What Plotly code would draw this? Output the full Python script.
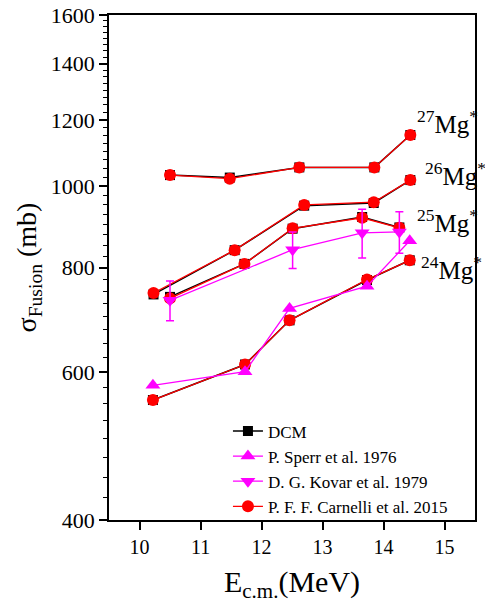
import plotly.graph_objects as go

# ---- data ----
isotopes = ["24", "25", "26", "27"]

# energies (MeV) per isotope
e_24 = [10.22, 11.73, 12.46, 13.73, 14.43]
e_25 = [10.50, 11.72, 12.51, 13.65, 14.26]
e_26 = [10.23, 11.56, 12.70, 13.84, 14.44]
e_27 = [10.50, 11.48, 12.62, 13.85, 14.44]

# DCM (mb)
dcm_24 = [556, 613, 692, 773, 816]
dcm_25 = [738, 808, 890, 919, 893]
dcm_26 = [743, 839, 948, 955, 1017]
dcm_27 = [1031, 1024, 1053, 1053, 1151]

# Carnelli et al. 2015 (mb)
car_24 = [556, 613, 692, 774, 816]
car_25 = [735, 808, 891, 917, 892]
car_26 = [746, 839, 950, 957, 1017]
car_27 = [1031, 1021, 1053, 1053, 1151]

# Sperr et al. 1976 (24Mg)
sperr_e = [10.22, 11.73, 12.46, 13.73, 14.43]
sperr_s = [579, 601, 715, 760, 861]

# Kovar et al. 1979 (25Mg)
kovar_e = [10.50, 12.51, 13.65, 14.26]
kovar_s = [731, 840, 880, 882]
kovar_err = [40, 42, 59, 50]

y_ticks = [400, 600, 800, 1000, 1200, 1400, 1600]
x_ticks = [10, 11, 12, 13, 14, 15]
y_minor = [v for v in range(425, 1600, 25) if v not in y_ticks]


def joined(*groups):
    out = []
    for i, g in enumerate(groups):
        if i:
            out.append(None)
        out.extend(g)
    return out


E_ALL = joined(e_24, e_25, e_26, e_27)
DCM_ALL = joined(dcm_24, dcm_25, dcm_26, dcm_27)
CAR_ALL = joined(car_24, car_25, car_26, car_27)

FONT = "'Liberation Serif', 'Times New Roman', 'DejaVu Serif', serif"

fig = go.Figure()
fig.add_trace(go.Scatter(
    x=E_ALL, y=DCM_ALL, mode="lines+markers", name="DCM",
    line=dict(color="black", width=1.5),
    marker=dict(symbol="square", size=10, color="black"),
    legendrank=1, connectgaps=False))
fig.add_trace(go.Scatter(
    x=E_ALL, y=CAR_ALL, mode="lines+markers", name="P. F. F. Carnelli et al. 2015",
    line=dict(color="#ff0000", width=1.3),
    marker=dict(symbol="circle", size=12, color="#ff0000"),
    legendrank=4, connectgaps=False))
fig.add_trace(go.Scatter(
    x=sperr_e, y=sperr_s, mode="lines+markers", name="P. Sperr et al. 1976",
    line=dict(color="#ff00ff", width=1.3),
    marker=dict(symbol="triangle-up", size=13, color="#ff00ff"),
    legendrank=2))
fig.add_trace(go.Scatter(
    x=kovar_e, y=kovar_s, mode="lines+markers", name="D. G. Kovar et al. 1979",
    line=dict(color="#ff00ff", width=1.3),
    marker=dict(symbol="triangle-down", size=13, color="#ff00ff"),
    error_y=dict(type="data", array=kovar_err, color="#ff00ff", thickness=1.5, width=4),
    legendrank=3))

labels = [
    ("27", 0.836, 0.788),
    ("26", 0.858, 0.685),
    ("25", 0.836, 0.592),
    ("24", 0.847, 0.500),
]
for iso, xp, yp in labels:
    fig.add_annotation(
        text=f"<sup>{iso}</sup>Mg<sup>*</sup>", xref="paper", yref="paper",
        x=xp, y=yp, xanchor="left", yanchor="middle", showarrow=False,
        font=dict(family=FONT, size=25, color="black"))

fig.update_layout(
    width=485, height=611,
    margin=dict(l=109, r=10, t=15, b=91, autoexpand=False),
    paper_bgcolor="white", plot_bgcolor="white",
    font=dict(family=FONT, color="black"),
    showlegend=True,
    hovermode=False,
    legend=dict(x=0.325, y=0.211, xanchor="left", yanchor="top",
                bgcolor="rgba(0,0,0,0)", font=dict(family=FONT, size=17),
                tracegroupgap=0),
    xaxis=dict(
        range=[9.5, 15.5], tickvals=x_ticks, ticktext=[str(v) for v in x_ticks],
        ticks="outside", ticklen=8, tickwidth=1.5, tickcolor="black",
        showline=True, linecolor="black", linewidth=1.8, mirror=True,
        showgrid=False, zeroline=False, automargin=False,
        tickfont=dict(family=FONT, size=20),
        title=dict(text="E<sub>c.m.</sub>(MeV)", font=dict(family=FONT, size=30), standoff=14)),
    yaxis=dict(
        type="log", range=[2.60206, 3.20412],
        tickvals=y_ticks, ticktext=[str(v) for v in y_ticks],
        ticks="outside", ticklen=8, tickwidth=1.5, tickcolor="black",
        minor=dict(tickvals=y_minor, ticks="outside", ticklen=4, tickwidth=1, tickcolor="black"),
        showline=True, linecolor="black", linewidth=1.8, mirror=True,
        showgrid=False, zeroline=False, automargin=False,
        tickfont=dict(family=FONT, size=22),
        title=dict(text="σ<sub>Fusion</sub> (mb)", font=dict(family=FONT, size=28), standoff=6)),
)

fig.write_html("out.html", config={"displayModeBar": False},
               post_script="document.body.style.margin='0';")
